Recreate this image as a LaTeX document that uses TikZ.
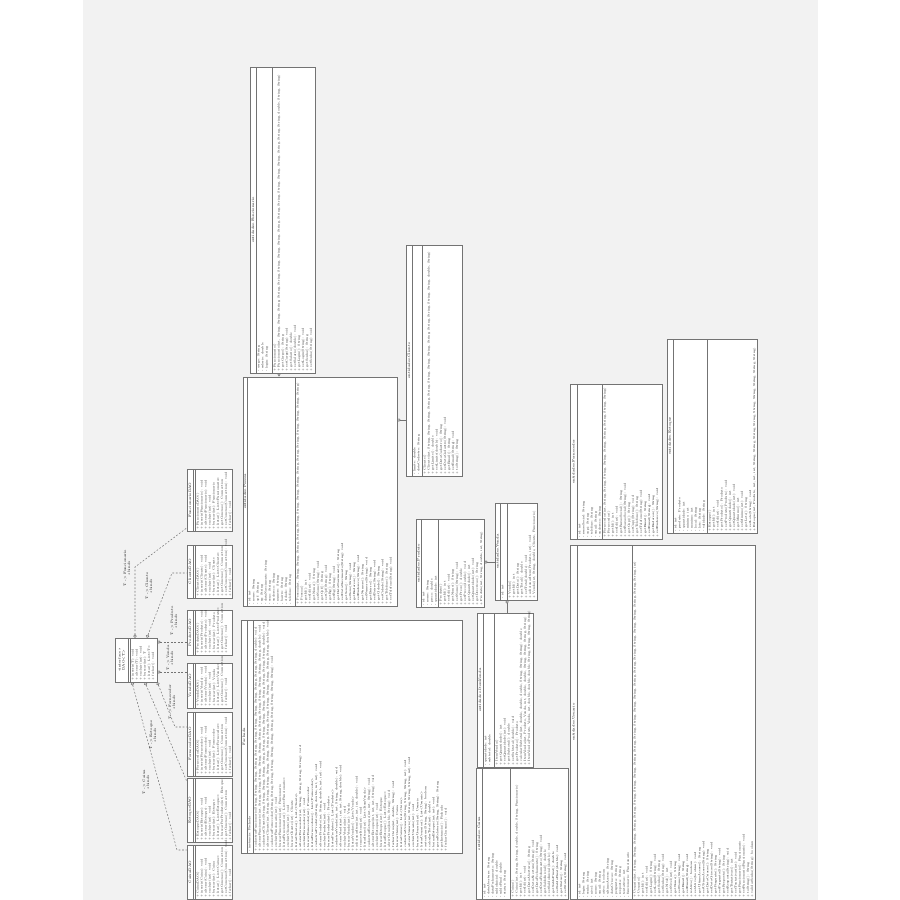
\documentclass[tikz,border=0pt]{standalone}
\usepackage{tikz}
\usetikzlibrary{arrows.meta, fit}
\definecolor{panelgray}{RGB}{242,242,242}
\definecolor{boxgray}{RGB}{115,115,115}
\definecolor{textgray}{RGB}{15,15,15}
\newcommand{\umlfont}{\fontsize{1.65pt}{2.3pt}\selectfont}
\newcommand{\umltitlefont}{\fontsize{2pt}{2.3pt}\selectfont}
% class box: name, x1, y1, x2, y2, title divider, member divider, title
\newcommand{\umlclass}[8]{%
  \node[classbox, fit={(#2,#3) (#4,#5)}] (#1) {};
  \draw[classline] (#6,#3) -- (#6,#5);
  \draw[classline] (#7,#3) -- (#7,#5);
  \node[classtitle] at ({(#2+#6)/2},{(#3+#5)/2}) {#8};
}
\tikzset{
  classbox/.style={draw=boxgray, fill=white, line width=0.4pt, inner sep=0pt},
  classline/.style={draw=boxgray, line width=0.3pt},
  classtitle/.style={rotate=90, font=\umltitlefont, inner sep=0pt, text=textgray, align=center},
  members/.style={rotate=90, anchor=north west, align=left, inner sep=0.6pt, font=\umlfont, text=textgray},
  bindline/.style={draw=boxgray, line width=0.3pt, dash pattern=on 1pt off 1pt, {Circle[open, length=1.8pt, width=1.8pt]}-},
  bindlabel/.style={rotate=90, font=\umltitlefont, inner sep=0pt, text=textgray, align=center},
  assocline/.style={draw=boxgray, line width=0.3pt, {Circle[open, length=1.8pt, width=1.8pt]}-},
  extline/.style={draw=boxgray, line width=0.3pt, -{Triangle[open, length=1.8pt, width=2pt]}}
}
\begin{document}
\begin{tikzpicture}[x=0.2mm, y=-0.2mm]
  \useasboundingbox (0,0) rectangle (900,900);
  \fill[white] (0,0) rectangle (900,900);
  \fill[panelgray] (83,0) rectangle (818,900);

  % entities
  \umlclass{funcionario}{250}{67}{315}{373}{256}{272}{entidades.Funcionario}
  \node[members] at (256,373) {- cargo: String\\- salario: double\\- login: String};
  \node[members] at (272,373) {+ Funcionario()\\+ Funcionario(int, String, String, String, String, String, String, String, String, String, String, String, String, String, String, String, String, String, double, String, String)\\+ getCargo(): String\\+ setCargo(String): void\\+ getSalario(): double\\+ setSalario(double): void\\+ getLogin(): String\\+ setLogin(String): void\\+ getSenha(): String\\+ setSenha(String): void};

  \umlclass{pessoa}{243}{377}{397}{606}{247}{295}{entidades.Pessoa}
  \node[members] at (247,606) {- id: int\\- nome: String\\- cpf: String\\- rg: String\\- dataNascimento: String\\- sexo: String\\- endereco: String\\- numero: String\\- bairro: String\\- cidade: String\\- telefone: String};
  \node[members] at (295,606) {+ Pessoa(int, String, String, String, String, String, String, String, String, String, String, String, String, String, String, String)\\+ Pessoa()\\+ getId(): int\\+ setId(int): void\\+ getNome(): String\\+ setNome(String): void\\+ getCpf(): String\\+ setCpf(String): void\\+ getRg(): String\\+ setRg(String): void\\+ getDataNascimento(): String\\+ setDataNascimento(String): void\\+ getSexo(): String\\+ setSexo(String): void\\+ getEndereco(): String\\+ setEndereco(String): void\\+ getNumero(): String\\+ setNumero(String): void\\+ getBairro(): String\\+ setBairro(String): void\\+ getCidade(): String\\+ setCidade(String): void\\+ getTelefone(): String\\+ setTelefone(String): void};

  \umlclass{cliente}{406}{245}{462}{476}{412}{422}{entidades.Cliente}
  \node[members] at (412,476) {- limite: double\\- dataCadastro: String};
  \node[members] at (422,476) {+ Cliente()\\+ Cliente(int, String, String, String, String, String, String, String, String, String, String, String, String, String, double, String)\\+ getLimite(): double\\+ setLimite(double): void\\+ getDataCadastro(): String\\+ setDataCadastro(String): void\\+ getEmail(): String\\+ setEmail(String): void\\+ toString(): String};

  \umlclass{fachada}{241}{620}{462}{853}{247}{253}{Fachada}
  \node[members] at (247,853) {- instancia: Fachada};
  \node[members] at (253,853) {+ cadastrarFuncionario(String, String, String, String, String, String, String, String, String, String, String, String, double): void\\+ alterarFuncionario(int, String, String, String, String, String, String, String, String, String, String, String, String, double): void\\+ cadastrarCliente(String, String, String, String, String, String, String, String, String, String, String, String, String, double): void\\+ alterarCliente(int, String, String, String, String, String, String, String, String, String, String, String, String, String, double): void\\+ cadastrarFornecedor(String, String, String, String, String, String, String, String, String, String, String): void\\+ excluirFuncionario(int): void\\+ buscarFuncionario(int): Funcionario\\+ listarFuncionarios(): List<Funcionario>\\+ excluirCliente(int): void\\+ buscarCliente(int): Cliente\\+ listarClientes(): List<Cliente>\\+ alterarFornecedor(int, String, String, String, String): void\\+ excluirFornecedor(int): void\\+ buscarFornecedor(int): Fornecedor\\+ listarFornecedores(): List<Fornecedor>\\+ cadastrarProduto(String, double, int, int): void\\+ alterarProduto(int, String, double, int, int): void\\+ excluirProduto(int): void\\+ buscarProduto(int): Produto\\+ listarProdutos(): List<Produto>\\+ cadastrarVenda(int, int, String, double): void\\+ alterarVenda(int, int, int, String, double): void\\+ excluirVenda(int): void\\+ buscarVenda(int): Venda\\+ listarVendas(): List<Venda>\\+ adicionarItem(int, int, int, double): void\\+ removerItem(int): void\\+ listarItens(int): List<ItemVenda>\\+ cadastrarEstoque(int, int, String): void\\+ alterarEstoque(int, int, int, String): void\\+ excluirEstoque(int): void\\+ buscarEstoque(int): Estoque\\+ listarEstoque(): List<Estoque>\\+ abrirCaixa(double, String): void\\+ fecharCaixa(int, double, String): void\\+ buscarCaixa(int): Caixa\\+ listarCaixas(): List<Caixa>\\+ cadastrarUsuario(String, String, String, int): void\\+ alterarUsuario(int, String, String, String, int): void\\+ excluirUsuario(int): void\\+ buscarUsuario(int): Usuario\\+ listarUsuarios(): List<Usuario>\\+ autenticar(String, String): boolean\\+ calcularTotal(int): double\\+ baixarEstoque(int, int): void\\+ gerarRelatorio(String, String): String\\+ getInstancia(): Fachada\\+ fecharConexao(): void};

  \umlclass{produto}{416}{519}{484}{607}{421}{438}{entidades.Produto}
  \node[members] at (421,607) {- id: int\\- nome: String\\- preco: double\\- quantidade: int};
  \node[members] at (438,607) {+ Produto()\\+ getId(): int\\+ setId(int): void\\+ getNome(): String\\+ setNome(String): void\\+ getPreco(): double\\+ setPreco(double): void\\+ getQuantidade(): int\\+ setQuantidade(int): void\\+ getDescricao(): String\\+ Produto(int, String, double, int, String)};

  \umlclass{venda}{495}{503}{537}{600}{500}{507}{entidades.Venda}
  \node[members] at (500,600) {- id: int};
  \node[members] at (507,600) {+ Venda()\\+ getId(): int\\+ getData(): String\\+ getTotal(): double\\+ setTotal(double): void\\+ adicionarItem(Produto, int): void\\+ Venda(int, String, double, Cliente, Funcionario)};

  \umlclass{itemvenda}{477}{613}{533}{767}{483}{494}{entidades.ItemVenda}
  \node[members] at (483,767) {- quantidade: int\\- subtotal: double};
  \node[members] at (494,767) {+ ItemVenda()\\+ getQuantidade(): int\\+ setQuantidade(int): void\\+ getSubtotal(): double\\+ setSubtotal(double): void\\+ getProduto(): Produto\\+ calcularSubtotal(int, double, double, double, String, String, String): double\\+ ItemVenda(int, Produto, Venda, int, double, double, String, String, String, String)\\+ ItemVenda(Produto, Venda, int, double, double, double, String, String, String, String)};

  \umlclass{caixa}{476}{768}{568}{899}{482}{510}{entidades.Caixa}
  \node[members] at (482,899) {- id: int\\- dataAbertura: String\\- dataFechamento: String\\- saldoInicial: double\\- saldoFinal: double\\- status: String};
  \node[members] at (510,899) {+ Caixa()\\+ Caixa(int, String, String, double, double, String, Funcionario)\\+ getId(): int\\+ setId(int): void\\+ getDataAbertura(): String\\+ setDataAbertura(String): void\\+ getDataFechamento(): String\\+ setDataFechamento(String): void\\+ getSaldoInicial(): double\\+ setSaldoInicial(double): void\\+ getSaldoFinal(): double\\+ setSaldoFinal(double): void\\+ getStatus(): String\\+ setStatus(String): void};

  \umlclass{fornecedor}{570}{384}{662}{539}{577}{602}{entidades.Fornecedor}
  \node[members] at (577,539) {- id: int\\- razaoSocial: String\\- cnpj: String\\- telefone: String\\- email: String\\- endereco: String};
  \node[members] at (602,539) {+ Fornecedor(int, String, String, String, String, String, String, String, String, String)\\+ Fornecedor()\\+ getId(): int\\+ setId(int): void\\+ getRazaoSocial(): String\\+ setRazaoSocial(String): void\\+ getCnpj(): String\\+ setCnpj(String): void\\+ getTelefone(): String\\+ setTelefone(String): void\\+ getEmail(): String\\+ setEmail(String): void\\+ getEndereco(): String\\+ setEndereco(String): void};

  \umlclass{estoque}{667}{339}{757}{533}{673}{707}{entidades.Estoque}
  \node[members] at (673,533) {- id: int\\- produto: Produto\\- quantidade: int\\- minimo: int\\- maximo: int\\- local: String\\- lote: String\\- validade: String};
  \node[members] at (707,533) {+ Estoque()\\+ getId(): int\\+ setId(int): void\\+ getProduto(): Produto\\+ setProduto(Produto): void\\+ getQuantidade(): int\\+ setQuantidade(int): void\\+ getMinimo(): int\\+ setMinimo(int): void\\+ getLote(): String\\+ setLote(String): void\\+ Estoque(int, Produto, int, int, int, String, String, String, String, String, String, String, String, String)};

  \umlclass{usuario}{570}{545}{755}{899}{577}{632}{entidades.Usuario}
  \node[members] at (577,899) {- id: int\\- login: String\\- senha: String\\- nivel: int\\- nome: String\\- email: String\\- ativo: boolean\\- ultimoAcesso: String\\- dataCriacao: String\\- pergunta: String\\- resposta: String\\- tentativas: int\\- funcionario: Funcionario};
  \node[members] at (632,899) {+ Usuario(int, String, String, String, String, String, String, String, String, String, String, String, String, String, String, String, String, String, String, String, String, String, String, String, int)\\+ Usuario()\\+ getId(): int\\+ setId(int): void\\+ getLogin(): String\\+ setLogin(String): void\\+ getSenha(): String\\+ setSenha(String): void\\+ getNivel(): int\\+ setNivel(int): void\\+ getNome(): String\\+ setNome(String): void\\+ getEmail(): String\\+ setEmail(String): void\\+ isAtivo(): boolean\\+ setAtivo(boolean): void\\+ getUltimoAcesso(): String\\+ setUltimoAcesso(String): void\\+ getDataCriacao(): String\\+ setDataCriacao(String): void\\+ getPergunta(): String\\+ setPergunta(String): void\\+ getResposta(): String\\+ setResposta(String): void\\+ getTentativas(): int\\+ setTentativas(int): void\\+ getFuncionario(): Funcionario\\+ setFuncionario(Funcionario): void\\+ toString(): String\\+ validarSenha(String): boolean};

  % dao interface and implementations
  \umlclass{idao}{115}{638}{157}{682}{128}{130}{«interface»\\DAO<T>}
  \node[members] at (130,682) {+ inserir(T): void\\+ alterar(T): void\\+ excluir(int): void\\+ buscar(int): T\\+ listar(): List<T>\\+ fechar(): void};

  \umlclass{daofunc}{187}{469}{232}{531}{193}{195}{FuncionarioDAO}
  \node[members] at (195,531) {+ FuncionarioDAO()\\+ inserir(Funcionario): void\\+ alterar(Funcionario): void\\+ excluir(int): void\\+ buscar(int): Funcionario\\+ listar(): List<Funcionario>\\+ getConexao(): Connection\\+ setConexao(Connection): void\\+ fechar(): void};
  \umlclass{daocli}{187}{545}{232}{598}{193}{195}{ClienteDAO}
  \node[members] at (195,598) {+ ClienteDAO()\\+ inserir(Cliente): void\\+ alterar(Cliente): void\\+ excluir(int): void\\+ buscar(int): Cliente\\+ listar(): List<Cliente>\\+ getConexao(): Connection\\+ setConexao(Connection): void\\+ fechar(): void};
  \umlclass{daoprod}{187}{610}{232}{655}{193}{195}{ProdutoDAO}
  \node[members] at (195,655) {+ ProdutoDAO()\\+ inserir(Produto): void\\+ alterar(Produto): void\\+ excluir(int): void\\+ buscar(int): Produto\\+ listar(): List<Produto>\\+ getConexao(): Connection\\+ fechar(): void};
  \umlclass{daovenda}{187}{663}{232}{708}{193}{195}{VendaDAO}
  \node[members] at (195,708) {+ VendaDAO()\\+ inserir(Venda): void\\+ alterar(Venda): void\\+ excluir(int): void\\+ buscar(int): Venda\\+ listar(): List<Venda>\\+ getConexao(): Connection\\+ fechar(): void};
  \umlclass{daoforn}{187}{712}{232}{776}{193}{195}{FornecedorDAO}
  \node[members] at (195,776) {+ FornecedorDAO()\\+ inserir(Fornecedor): void\\+ alterar(Fornecedor): void\\+ excluir(int): void\\+ buscar(int): Fornecedor\\+ listar(): List<Fornecedor>\\+ getConexao(): Connection\\+ setConexao(Connection): void\\+ fechar(): void};
  \umlclass{daoest}{187}{778}{232}{842}{193}{195}{EstoqueDAO}
  \node[members] at (195,842) {+ EstoqueDAO()\\+ inserir(Estoque): void\\+ alterar(Estoque): void\\+ excluir(int): void\\+ buscar(int): Estoque\\+ listar(): List<Estoque>\\+ buscarPorProduto(int): Estoque\\+ getConexao(): Connection\\+ fechar(): void};
  \umlclass{daocaixa}{187}{845}{232}{899}{193}{195}{CaixaDAO}
  \node[members] at (195,899) {+ CaixaDAO()\\+ inserir(Caixa): void\\+ alterar(Caixa): void\\+ excluir(int): void\\+ buscar(int): Caixa\\+ listar(): List<Caixa>\\+ getConexao(): Connection\\+ setConexao(Connection): void\\+ fechar(): void};

  % bindings
  \draw[bindline] (135,0 |- idao.north) -- (135,567) -- (daofunc.west |- 0,528);
  \draw[bindline] (147,0 |- idao.north) -- (172,573) -- (daocli.west |- 0,573);
  \draw[bindline] (idao.east |- 0,642) -- (daoprod.west |- 0,642);
  \draw[bindline] (idao.east |- 0,672) -- (daovenda.west |- 0,672);
  \draw[bindline] (idao.south east) -- (175,727) -- (daoforn.west |- 0,727);
  \draw[bindline] (145,0 |- idao.south) -- (daoest.west |- 0,781);
  \draw[bindline] (132,0 |- idao.south) -- (177,850) -- (daocaixa.west |- 0,850);
  \node[bindlabel] at (127,568) {T -> Funcionario\\«bind»};
  \node[bindlabel] at (149,586) {T -> Cliente\\«bind»};
  \node[bindlabel] at (174,621) {T -> Produto\\«bind»};
  \node[bindlabel] at (170,658) {T -> Venda\\«bind»};
  \node[bindlabel] at (172,702) {T -> Fornecedor\\«bind»};
  \node[bindlabel] at (153,735) {T -> Estoque\\«bind»};
  \node[bindlabel] at (146,782) {T -> Caixa\\«bind»};

  % entity relations
  \draw[extline] (279,0 |- funcionario.south) -- (279,0 |- pessoa.north);
  \draw[assocline] (pessoa.east |- 0,420) -- (cliente.west |- 0,420);
  \draw[assocline] (produto.east |- 0,562) -- (venda.west |- 0,562);
  \draw[assocline] (507,0 |- venda.south) -- (507,0 |- itemvenda.north);
\end{tikzpicture}
\end{document}
